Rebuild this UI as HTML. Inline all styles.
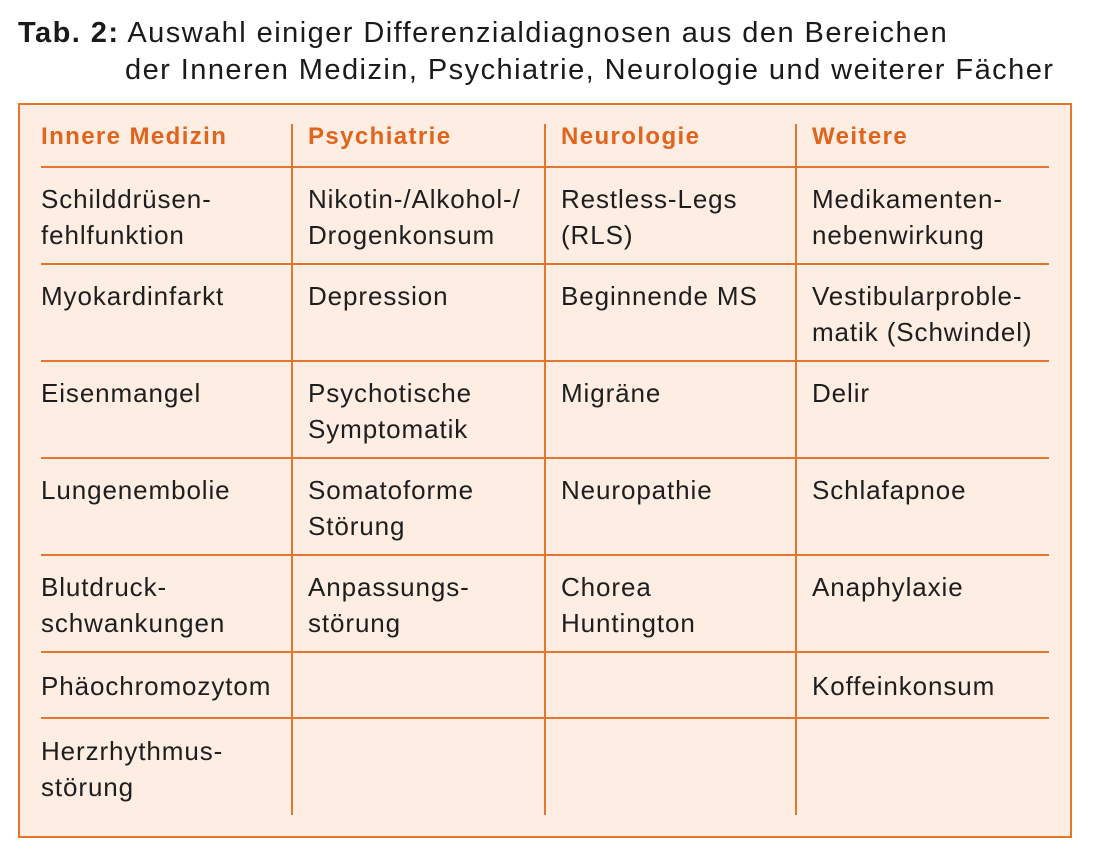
<!DOCTYPE html>
<html><head><meta charset="utf-8"><style>
body{margin:0;width:1100px;height:851px;background:#fff;position:relative;overflow:hidden;font-family:"Liberation Sans",Arial,sans-serif;}
.t{position:absolute;font-size:29px;line-height:37px;color:#1a1a1a;letter-spacing:1.45px;white-space:nowrap}
.box{position:absolute;left:18px;top:103px;width:1050px;height:731px;border:2px solid #e3772f;background:#fdede3;}
.h{position:absolute;height:2px;left:41px;width:1008px;background:#e3772f}
.v{position:absolute;width:2px;top:124px;height:691px;background:#e3772f}
.hd{position:absolute;top:122px;font-size:24px;line-height:30px;font-weight:bold;color:#e0641c;letter-spacing:1.4px;white-space:nowrap}
.c{position:absolute;font-size:26px;line-height:36px;color:#1e1e1e;letter-spacing:0.9px;white-space:nowrap}
</style></head><body>
<div class="t" style="left:18px;top:15px"><b>Tab. 2:</b> Auswahl einiger Differenzialdiagnosen aus den Bereichen</div>
<div class="t" style="left:125px;top:52px">der Inneren Medizin, Psychiatrie, Neurologie und weiterer Fächer</div>
<div class="box"></div>
<div class="h" style="top:166px"></div>
<div class="h" style="top:263px"></div>
<div class="h" style="top:360px"></div>
<div class="h" style="top:457px"></div>
<div class="h" style="top:554px"></div>
<div class="h" style="top:651px"></div>
<div class="h" style="top:717px"></div>
<div class="v" style="left:291px"></div>
<div class="v" style="left:544px"></div>
<div class="v" style="left:795px"></div>
<div class="hd" style="left:41px">Innere Medizin</div>
<div class="hd" style="left:308px">Psychiatrie</div>
<div class="hd" style="left:561px">Neurologie</div>
<div class="hd" style="left:812px">Weitere</div>

<div class="c" style="left:41px;top:181px">Schilddrüsen-<br>fehlfunktion</div>
<div class="c" style="left:308px;top:181px">Nikotin-/Alkohol-/<br>Drogenkonsum</div>
<div class="c" style="left:561px;top:181px">Restless-Legs<br>(RLS)</div>
<div class="c" style="left:812px;top:181px">Medikamenten-<br>nebenwirkung</div>

<div class="c" style="left:41px;top:278px">Myokardinfarkt</div>
<div class="c" style="left:308px;top:278px">Depression</div>
<div class="c" style="left:561px;top:278px">Beginnende MS</div>
<div class="c" style="left:812px;top:278px">Vestibularproble-<br>matik (Schwindel)</div>

<div class="c" style="left:41px;top:375px">Eisenmangel</div>
<div class="c" style="left:308px;top:375px">Psychotische<br>Symptomatik</div>
<div class="c" style="left:561px;top:375px">Migräne</div>
<div class="c" style="left:812px;top:375px">Delir</div>

<div class="c" style="left:41px;top:472px">Lungenembolie</div>
<div class="c" style="left:308px;top:472px">Somatoforme<br>Störung</div>
<div class="c" style="left:561px;top:472px">Neuropathie</div>
<div class="c" style="left:812px;top:472px">Schlafapnoe</div>

<div class="c" style="left:41px;top:569px">Blutdruck-<br>schwankungen</div>
<div class="c" style="left:308px;top:569px">Anpassungs-<br>störung</div>
<div class="c" style="left:561px;top:569px">Chorea<br>Huntington</div>
<div class="c" style="left:812px;top:569px">Anaphylaxie</div>

<div class="c" style="left:41px;top:668px">Phäochromozytom</div>
<div class="c" style="left:812px;top:668px">Koffeinkonsum</div>

<div class="c" style="left:41px;top:733px">Herzrhythmus-<br>störung</div>
</body></html>
